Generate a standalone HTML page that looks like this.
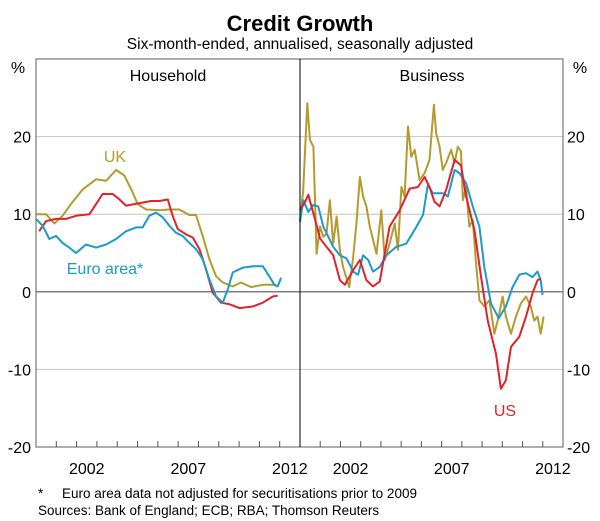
<!DOCTYPE html>
<html><head><meta charset="utf-8"><style>
body{margin:0;background:#fff}
svg{display:block;font-family:"Liberation Sans",Arial,sans-serif}
</style></head><body>
<svg id="chart" width="600" height="521" viewBox="0 0 600 521">
<text x="300" y="31" text-anchor="middle" font-size="22" font-weight="bold">Credit Growth</text>
<text x="300" y="49" text-anchor="middle" font-size="15.5">Six-month-ended, annualised, seasonally adjusted</text>
<g id="grid"></g>
<g id="series"></g>
<rect x="36" y="59" width="527" height="388" fill="none" stroke="#777" stroke-width="1.2"/>
<line x1="300" y1="59" x2="300" y2="447" stroke="#000" stroke-width="1"/>
<g id="axes"></g>
<text x="168" y="81" text-anchor="middle" font-size="16">Household</text>
<text x="432" y="81" text-anchor="middle" font-size="16">Business</text>
<text x="18" y="73" text-anchor="middle" font-size="16">%</text>
<text x="580" y="73" text-anchor="middle" font-size="16">%</text>
<text x="115" y="162" text-anchor="middle" font-size="16" fill="#b39b2e">UK</text>
<text x="105" y="274" text-anchor="middle" font-size="16" fill="#1b9bc9">Euro area*</text>
<text x="505" y="416" text-anchor="middle" font-size="16" fill="#e0222b">US</text>
<text x="38" y="498" font-size="13.5">*</text>
<text x="62" y="498" font-size="13.5">Euro area data not adjusted for securitisations prior to 2009</text>
<text x="38" y="515" font-size="13.5">Sources: Bank of England; ECB; RBA; Thomson Reuters</text>
</svg>
<script>
const yTicks=[20,10,0,-10,-20];
const yearLabels=[2002,2007,2012];
const hhUkYrs=[0,.49,.9,1.31,1.72,2.3,2.96,3.45,3.94,4.35,4.76,5.01,5.42,6.08,6.57,7.06,7.55,7.88,8.21,8.54,8.87,9.2,9.69,10.1,10.59,11.17,11.82];
const hhUkVals=[10,10,8.8,9.8,11.3,13.2,14.5,14.3,15.7,15,12.8,11.3,10.6,10.5,10.6,10.6,9.9,9.9,7.2,4.2,2,1.2,0.7,1.2,0.6,0.9,0.9];
const hhUsYrs=[.16,.49,.99,1.48,1.97,2.63,2.96,3.28,3.78,4.11,4.43,4.84,5.25,5.67,6.08,6.49,6.73,6.98,7.39,7.72,8.05,8.37,8.70,9.11,9.52,10.02,10.67,11.17,11.66,11.90];
const hhUsVals=[7.8,9.1,9.4,9.4,9.8,10,11.3,12.6,12.6,11.9,11.1,11.3,11.5,11.7,11.7,11.9,9.8,8.1,7.4,7,5.5,2.9,-0.1,-1.4,-1.6,-2.1,-1.9,-1.4,-0.6,-0.5];
const hhEuYrs=[0,.33,.66,.99,1.31,1.64,1.97,2.46,2.96,3.45,3.94,4.43,4.93,5.25,5.58,5.91,6.24,6.57,6.90,7.22,7.55,7.88,8.21,8.54,8.87,9.20,9.44,9.69,10.18,10.67,11.17,11.49,11.74,11.90,12.07];
const hhEuVals=[9.4,8.5,6.8,7.2,6.3,5.7,5,6.1,5.7,6.1,6.8,7.8,8.3,8.3,9.8,10.2,9.6,8.5,7.6,7.2,6.3,5.5,4.2,1.6,-0.6,-1.4,0.3,2.5,3.1,3.3,3.3,2,0.9,0.7,1.8];
const bzUkYrs=[0,.16,.36,.49,.66,.82,.99,1.15,1.31,1.48,1.64,1.81,1.97,2.13,2.43,2.63,2.79,2.96,3.12,3.28,3.45,3.78,4.02,4.19,4.43,4.68,4.84,5.01,5.17,5.34,5.50,5.67,5.91,6.16,6.40,6.62,6.73,6.90,7.06,7.22,7.47,7.64,7.80,7.96,8.05,8.21,8.37,8.54,8.70,8.87,9.11,9.36,9.61,9.77,10.02,10.18,10.43,10.67,10.92,11.17,11.41,11.58,11.74,11.90,12.04];
const bzUkVals=[9.2,13.1,24.3,19.6,18.7,4.9,8.4,7.1,7.5,11.8,6.2,9.7,5.4,3.2,0.6,4.5,8.8,14.8,12.3,11,8.4,4.9,10.5,4.1,6.2,8.8,5.4,13.5,12.3,21.3,17.4,18.3,14.4,15.3,17,24.1,20.4,18.7,15.7,16.6,18.3,16.6,18.7,18.1,11.8,13.5,8.4,9.2,3.7,-1.1,-1.9,-1.1,-5.4,-3.7,-0.6,-3.2,-5.4,-3.2,-1.5,-0.6,-1.9,-3.7,-3.2,-5.4,-3.2];
const bzUsYrs=[0,.25,.41,.66,.99,1.31,1.64,1.97,2.22,2.63,2.96,3.28,3.61,3.94,4.43,4.93,5.42,5.83,6.16,6.40,6.65,6.90,7.22,7.64,7.96,8.21,8.62,8.95,9.28,9.69,9.93,10.18,10.43,10.84,11.17,11.49,11.74,11.90];
const bzUsVals=[10.5,11.6,12.5,10.1,6.9,5.8,4.7,1.5,0.9,2.8,4.1,1.5,0.7,1.3,8.4,10.5,13.3,13.5,14.8,13.5,11.6,11,13.1,17,16.3,12.3,8,1.9,-3.7,-8,-12.5,-11.4,-7.1,-5.8,-3.2,-0.2,1.5,1.7];
const bzEuYrs=[0,.16,.41,.66,.90,1.15,1.40,1.64,1.97,2.30,2.63,2.87,3.12,3.37,3.61,3.94,4.27,4.76,5.25,5.67,6.08,6.32,6.57,7.06,7.31,7.64,7.88,8.21,8.54,8.87,9.11,9.44,9.82,10.18,10.51,10.84,11.17,11.49,11.74,11.90,11.99];
const bzEuVals=[9,11.8,10.3,11.2,11,8.4,7.1,5.8,4.7,4.3,2.6,2.2,4.7,4.1,2.6,3.2,4.7,5.8,6.2,8,9.9,13.8,12.7,12.7,12.3,15.7,15.3,14,11,8.4,3.2,-1.5,-3.4,-1.9,0.6,2.2,2.4,1.9,2.6,1.5,-0.4];

const NS="http://www.w3.org/2000/svg";
const yMax=30,yMin=-20,plotTop=59,plotBot=447;
function yS(v){return plotTop+(yMax-v)/(yMax-yMin)*(plotBot-plotTop);}
const panels=[{x0:36,x1:300},{x0:300,x1:563}];
function xS(p,t){const P=panels[p];return P.x0+t/13*(P.x1-P.x0);}
function mk(tag,attrs,parent){const e=document.createElementNS(NS,tag);for(const k in attrs)e.setAttribute(k,attrs[k]);parent.appendChild(e);return e;}
const grid=document.getElementById('grid'),axes=document.getElementById('axes'),ser=document.getElementById('series');
yTicks.forEach(v=>{
  if(v>yMin){
    const l=mk('line',{x1:36,x2:563,y1:yS(v),y2:yS(v),stroke:v===0?'#555':'#c4c4c4','stroke-width':v===0?1.2:1},grid);
    
    
  }
  const a=mk('text',{x:31,y:yS(v)+6,'text-anchor':'end','font-size':16},axes);a.textContent=v;
  
  
  const b=mk('text',{x:567,y:yS(v)+6,'text-anchor':'start','font-size':16},axes);b.textContent=v;
  
  
});
[0,1].forEach(p=>{
  for(let i=1;i<13;i++){
    const t=mk('line',{x1:xS(p,i),x2:xS(p,i),y1:plotBot,y2:plotBot-6,stroke:'#555','stroke-width':1},axes);
    
    
  }
  yearLabels.forEach(yr=>{
    const tx=mk('text',{x:xS(p,yr-2000+0.5),y:474,'text-anchor':'middle','font-size':16},axes);tx.textContent=yr;
    
    
  });
});
function line(p,yrs,vals,color,name){
  const d=yrs.map((t,i)=>(i?'L':'M')+xS(p,t).toFixed(1)+','+yS(vals[i]).toFixed(1)).join('');
  const e=mk('path',{d:d,fill:'none',stroke:color,'stroke-width':2,'stroke-linejoin':'round'},ser);
  
  
}
const GOLD='#b39b2e',RED='#e0222b',BLUE='#1b9bc9';
line(0,hhUkYrs,hhUkVals,GOLD,'household-uk-line');
line(0,hhUsYrs,hhUsVals,RED,'household-us-line');
line(0,hhEuYrs,hhEuVals,BLUE,'household-euro-line');
line(1,bzUkYrs,bzUkVals,GOLD,'business-uk-line');
line(1,bzEuYrs,bzEuVals,BLUE,'business-euro-line');
line(1,bzUsYrs,bzUsVals,RED,'business-us-line');
</script>
</body></html>
